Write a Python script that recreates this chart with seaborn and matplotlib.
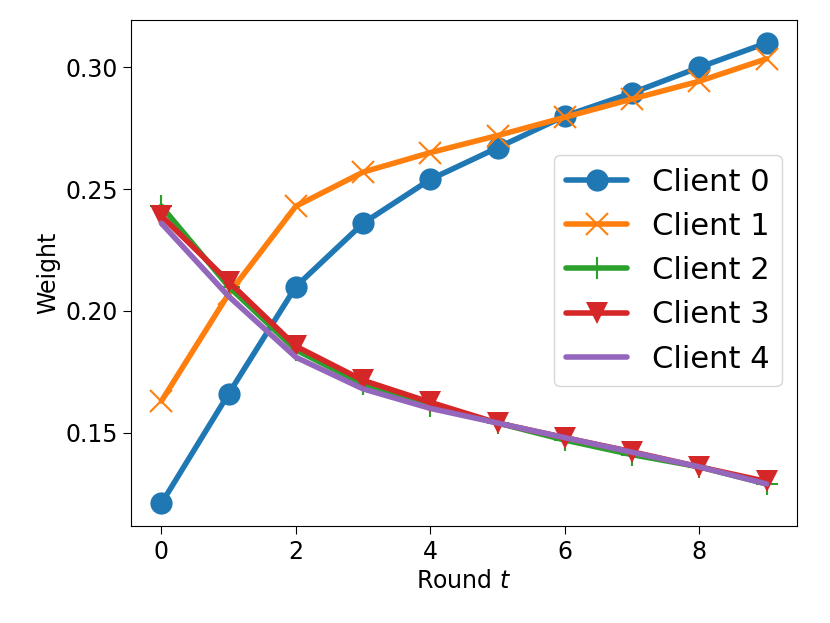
import matplotlib
matplotlib.use("Agg")
import matplotlib.pyplot as plt
import seaborn as sns
import numpy as np
import pandas as pd

rounds = list(range(10))
client0 = [0.121, 0.166, 0.210, 0.236, 0.254, 0.267, 0.280, 0.2895, 0.300, 0.310]
client1 = [0.163, 0.207, 0.243, 0.257, 0.265, 0.272, 0.2795, 0.287, 0.2943, 0.3035]
client2 = [0.243, 0.210, 0.184, 0.170, 0.161, 0.154, 0.147, 0.141, 0.136, 0.129]
client3 = [0.239, 0.212, 0.1855, 0.1715, 0.1625, 0.154, 0.148, 0.1422, 0.136, 0.130]
client4 = [0.236, 0.206, 0.181, 0.168, 0.160, 0.154, 0.148, 0.142, 0.136, 0.129]

series = [client0, client1, client2, client3, client4]
names = ["Client 0", "Client 1", "Client 2", "Client 3", "Client 4"]
markers = ["o", "x", "+", "v", None]

sns.set_style("ticks", {"text.color": "black", "axes.labelcolor": "black",
                        "xtick.color": "black", "ytick.color": "black",
                        "axes.edgecolor": "black"})
plt.rcParams['font.family'] = ['DejaVu Sans']
colors = sns.color_palette("tab10")

fig, ax = plt.subplots(figsize=(8.3, 6.23), dpi=100)
for i, (vals, name) in enumerate(zip(series, names)):
    df = pd.DataFrame({"Round": rounds, "Weight": vals})
    sns.lineplot(data=df, x="Round", y="Weight", ax=ax, color=colors[i],
                 linewidth=4, marker=markers[i], markersize=16,
                 markeredgewidth=1.5 if markers[i] in ("x", "+") else 0,
                 markeredgecolor=colors[i], label=name)

ax.set_xlabel("Round $t$", fontsize=17)
ax.set_ylabel("Weight", fontsize=17)
ax.tick_params(labelsize=17, length=6)
ax.set_yticks([0.15, 0.20, 0.25, 0.30])
ax.set_xticks([0, 2, 4, 6, 8])
leg = ax.legend(fontsize=22, loc="center right", bbox_to_anchor=(1.0, 0.505),
                handlelength=2.0)
plt.subplots_adjust(left=0.158, right=0.96, top=0.968, bottom=0.155)
plt.savefig("out.png", dpi=100)
